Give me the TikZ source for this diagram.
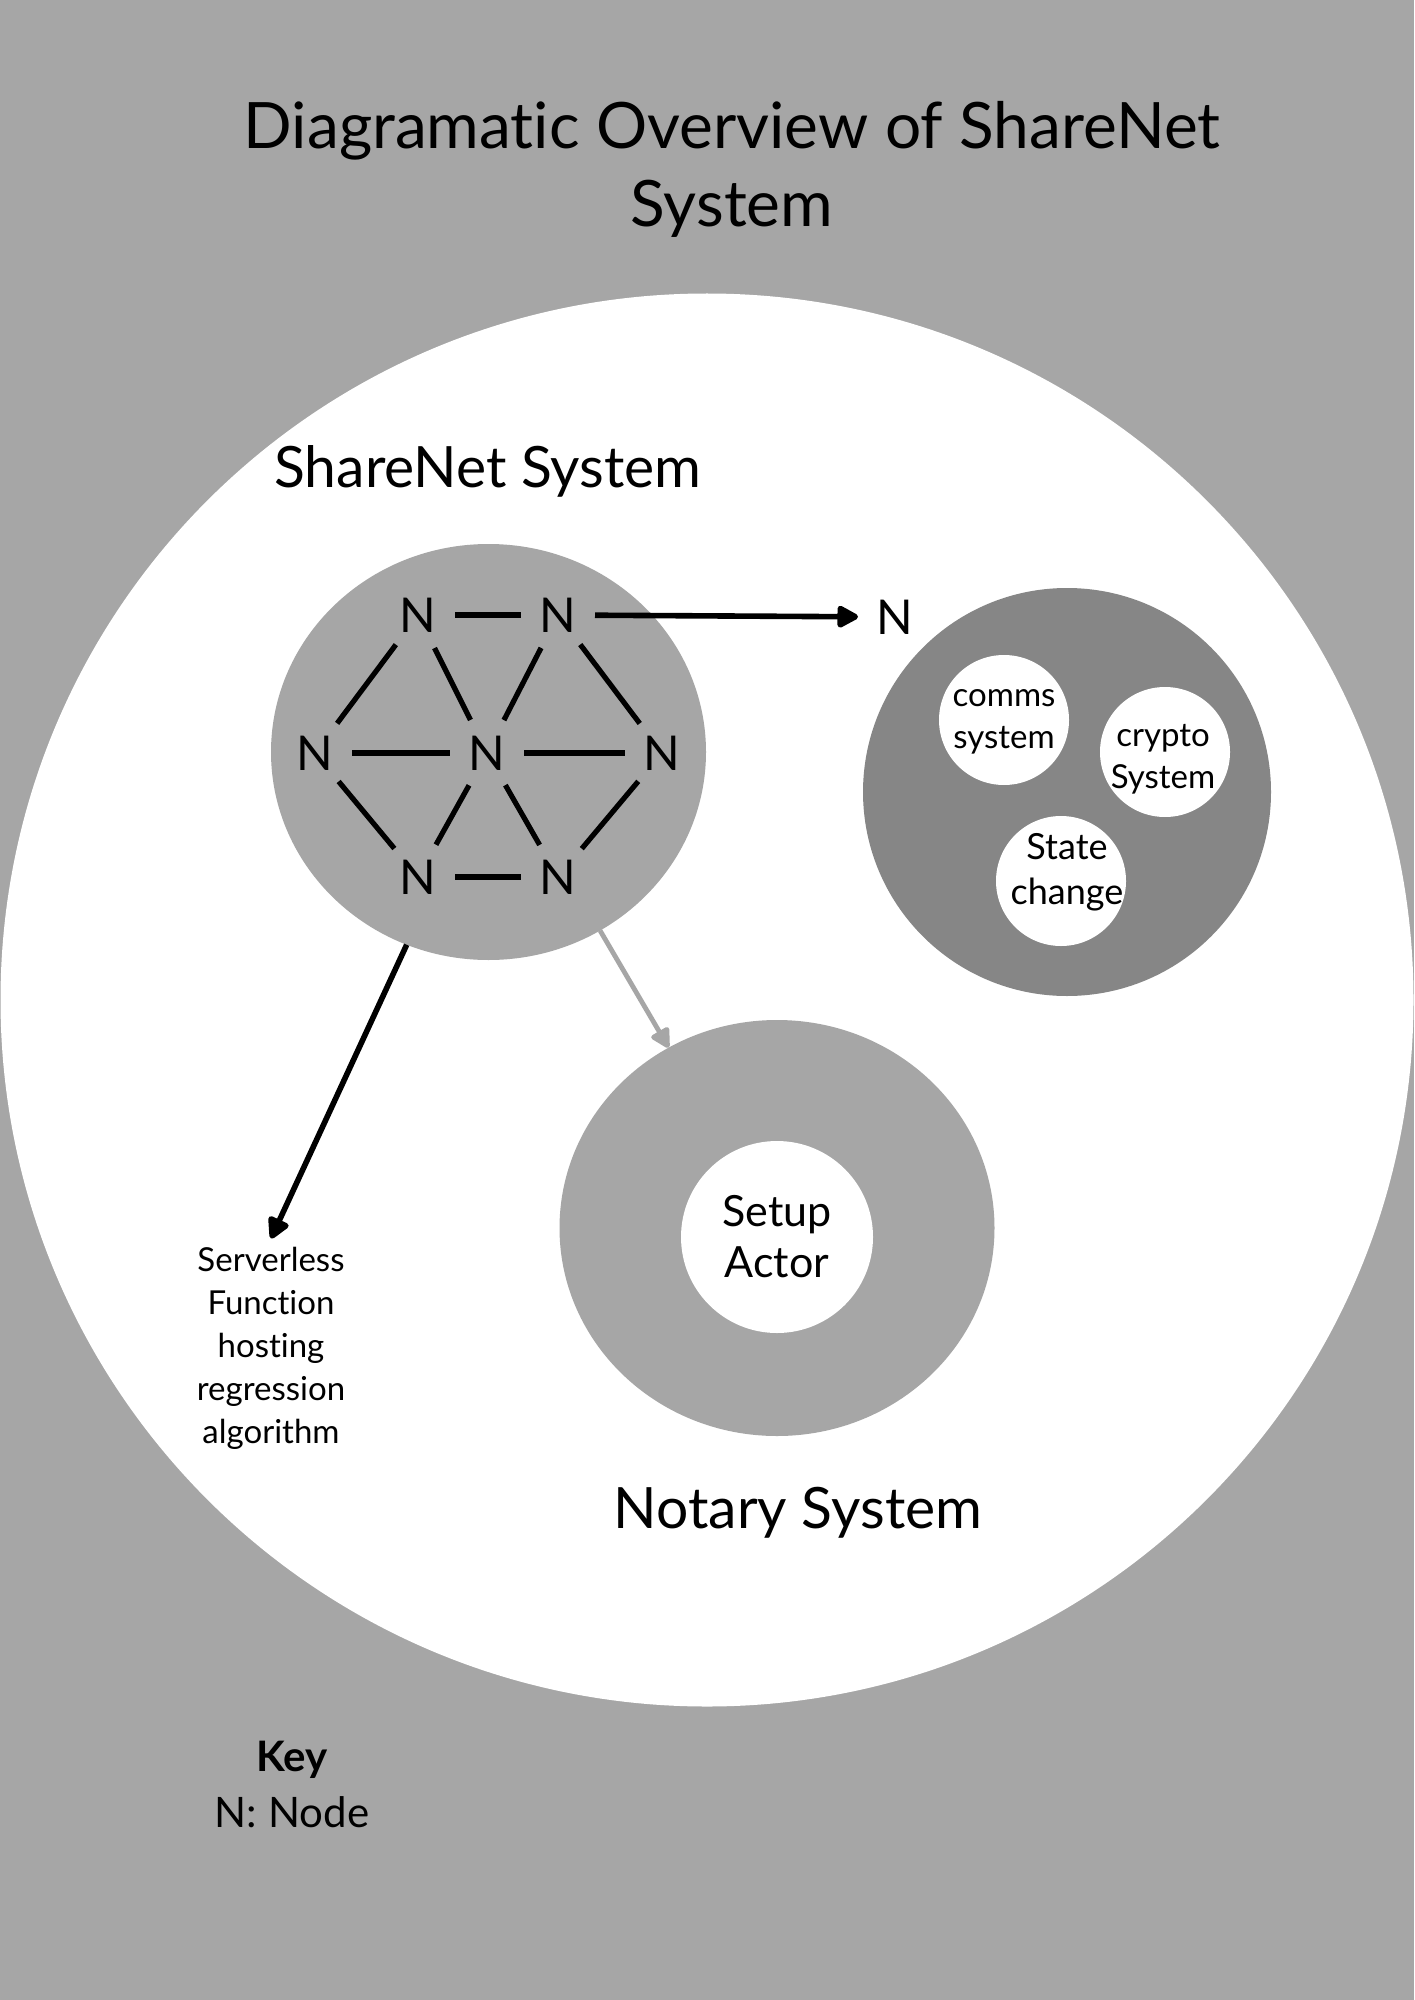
\documentclass[tikz,border=0pt]{standalone}
\usepackage{fontspec}
\setmainfont{Lato}[Ligatures=NoCommon]
\usetikzlibrary{shapes.geometric,arrows.meta}
\definecolor{bgray}{HTML}{A6A6A6}
\definecolor{dgray}{HTML}{868686}
\begin{document}
\begin{tikzpicture}[x=0.5pt,y=-0.5pt,
  nd/.style={circle,inner sep=0pt,outer sep=0pt,minimum size=37pt,font=\fontsize{24}{24}\selectfont},
  link/.style={line width=2.6pt},
  blackarrow/.style={line width=2.8pt,-{Triangle[length=12pt,width=12pt,round]}},
  grayarrow/.style={line width=2.4pt,draw=bgray,-{Triangle[length=11pt,width=11pt,round]}},
  smallc/.style={circle,fill=white,inner sep=0pt,minimum size=65pt},
  smalltext/.style={align=center,inner sep=0pt,font=\fontsize{16.5}{21}\selectfont},
  biglabel/.style={font=\fontsize{28.5}{32}\selectfont}
]
\fill[bgray] (0,0) rectangle (1414,2000);
\useasboundingbox (0,0) rectangle (1414,2000);

% title
\node[align=center,font=\fontsize{32}{39}\selectfont] (title) at (732,169) {Diagramatic Overview of ShareNet\\System};

% world circle
\node[circle,fill=white,inner sep=0pt,minimum size=706.5pt] (world) at (707,1000) {};

% ShareNet system
\node[biglabel] (sharelabel) at (488,471) {ShareNet System};
\node[ellipse,fill=bgray,inner sep=0pt,outer sep=0pt,minimum width=217.5pt,minimum height=208pt] (sharenet) at (488.5,752) {};

\node[nd] (n1) at (418,615) {N};
\node[nd] (n2) at (558,615) {N};
\node[nd] (n3) at (315,753) {N};
\node[nd] (n4) at (487,753) {N};
\node[nd] (n5) at (662,753) {N};
\node[nd] (n6) at (418,877) {N};
\node[nd] (n7) at (558,877) {N};

\draw[link] (n1) -- (n2);
\draw[link] (n1) -- (n3);
\draw[link] (n1) -- (n4);
\draw[link] (n2) -- (n4);
\draw[link] (n2) -- (n5);
\draw[link] (n3) -- (n4);
\draw[link] (n4) -- (n5);
\draw[link] (n3) -- (n6);
\draw[link] (n4) -- (n6);
\draw[link] (n4) -- (n7);
\draw[link] (n5) -- (n7);
\draw[link] (n6) -- (n7);

% outside node and its components
\node[nd] (nout) at (895,617) {N};
\node[circle,fill=dgray,inner sep=0pt,minimum size=204pt] (nodebody) at (1067,792) {};
\node[smallc] (comms) at (1004,720) {};
\node[smallc] (crypto) at (1165,752) {};
\node[smallc] (state) at (1061,881) {};
\node[smalltext] (commstext) at (1004,722) {comms\\system};
\node[smalltext] (cryptotext) at (1163,759) {crypto\\System};
\node[smalltext,font=\fontsize{18}{22.5}\selectfont] (statetext) at (1067,872) {State\\change};

\draw[blackarrow] (n2) -- (nout);

% Notary system
\node[ellipse,fill=bgray,inner sep=0pt,outer sep=0pt,minimum width=217.5pt,minimum height=208pt] (notary) at (777,1228) {};
\node[circle,fill=white,inner sep=0pt,minimum size=96pt,align=center,font=\fontsize{21.5}{25.5}\selectfont] (setup) at (777,1237) {Setup\\Actor};
\node[biglabel] (notarylabel) at (798,1513) {Notary System};

% serverless
\node[align=center,inner sep=0pt,font=\fontsize{16.5}{21.5}\selectfont] (serverless) at (271,1348) {Serverless\\Function\\hosting\\regression\\algorithm};

\draw[blackarrow] (sharenet.-113.8) -- ([yshift=4pt]serverless.north);
\draw[grayarrow] (sharenet.-58.7) -- (notary.121);

% key
\node[align=center,font=\fontsize{21}{28}\selectfont] (key) at (292,1784) {\textbf{Key}\\N: Node};
\end{tikzpicture}
\end{document}
